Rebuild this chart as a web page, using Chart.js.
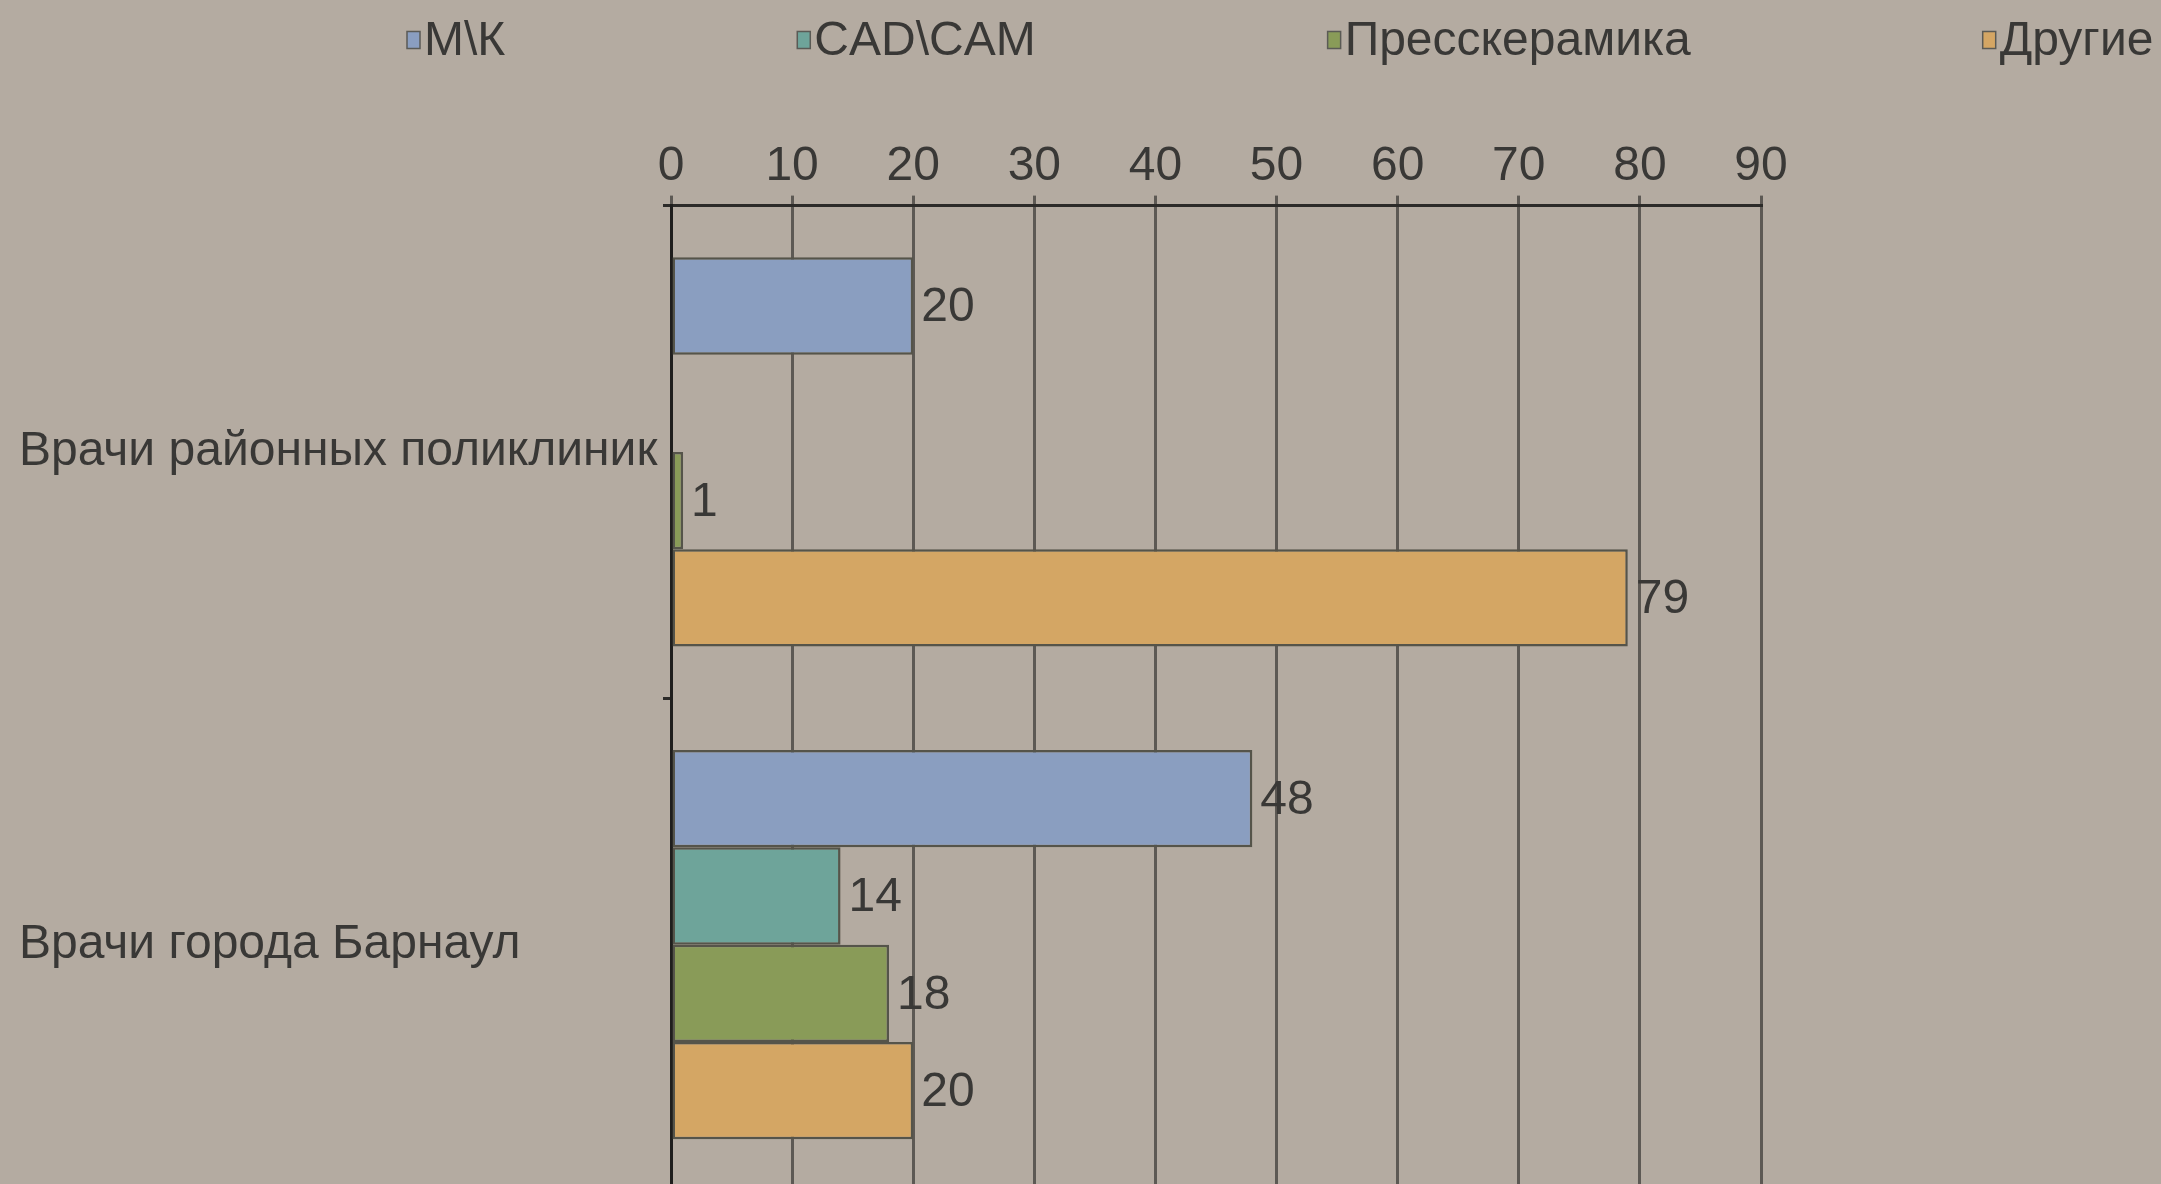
<!DOCTYPE html>
<html lang="ru">
<head>
<meta charset="utf-8">
<title>Врачи: М\К, CAD\CAM, Пресскерамика, Другие</title>
<script src="https://cdn.jsdelivr.net/npm/chart.js@4.4.1/dist/chart.umd.min.js"></script>
<style>
    html, body {
        margin: 0;
        padding: 0;
        overflow: hidden;
        background: #b4aba1;
    }
    #chart {
        display: block;
    }
</style>
</head>
<body>
<canvas id="chart" width="2161" height="1200"></canvas>
<script>
// --- data ---
const categories = ['Врачи районных поликлиник', 'Врачи города Барнаул'];
const seriesNames = ['М\\К', 'CAD\\CAM', 'Пресскерамика', 'Другие'];
const mkValues = [20, 48];
const cadCamValues = [null, 14];
const pressValues = [1, 18];
const otherValues = [79, 20];
const axisMin = 0;
const axisMax = 90;
const axisStep = 10;

// --- look ---
const FONT = '"Liberation Sans", Arial, sans-serif';
const TEXT_COLOR = '#393836';
const BAR_COLORS = ['#8a9ec0', '#6ea49a', '#899b58', '#d4a664'];
const BAR_BORDER = '#55544a';

/**
 * Legend row drawn with a tight gap between key and text
 */
const keyRow = {
    id: 'keyRow',
    afterDraw(chart, args, opts) {
        const ctx = chart.ctx;
        ctx.save();
        ctx.font = `${opts.fontSize}px ${FONT}`;
        ctx.textBaseline = 'middle';
        ctx.textAlign = 'left';

        let x = opts.left;
        chart.data.datasets.forEach(ds => {
            const top = opts.y - opts.boxH / 2;
            ctx.fillStyle = ds.backgroundColor;
            ctx.fillRect(x, top, opts.boxW, opts.boxH);
            ctx.strokeStyle = '#5a5a55';
            ctx.lineWidth = 1.5;
            ctx.strokeRect(x, top, opts.boxW, opts.boxH);

            ctx.fillStyle = TEXT_COLOR;
            ctx.fillText(ds.label, x + opts.boxW + opts.gap, opts.y + 2);
            x += opts.boxW + opts.gap + ctx.measureText(ds.label).width + opts.spacing;
        });
        ctx.restore();
    }
};

/**
 * Value written just past the end of each bar
 */
const valueLabels = {
    id: 'valueLabels',
    afterDatasetsDraw(chart, args, opts) {
        const ctx = chart.ctx;
        ctx.save();
        ctx.font = `${opts.fontSize}px ${FONT}`;
        ctx.fillStyle = TEXT_COLOR;
        ctx.textBaseline = 'middle';
        ctx.textAlign = 'left';

        chart.data.datasets.forEach((ds, i) => {
            const meta = chart.getDatasetMeta(i);
            meta.data.forEach((bar, j) => {
                const v = ds.data[j];
                if (v === null || v === undefined) return;
                ctx.fillText(String(v), bar.x + opts.offset, bar.y + 2);
            });
        });
        ctx.restore();
    }
};

const datasets = [mkValues, cadCamValues, pressValues, otherValues].map((values, i) => ({
    label: seriesNames[i],
    data: values,
    backgroundColor: BAR_COLORS[i],
    borderColor: BAR_BORDER,
    borderWidth: 2.5,
    borderSkipped: false,
    categoryPercentage: 0.79,
    barPercentage: 1.0
}));

const ctx = document.getElementById('chart').getContext('2d');

new Chart(ctx, {
    type: 'bar',
    data: {
        labels: categories,
        datasets: datasets
    },
    plugins: [keyRow, valueLabels],
    options: {
        indexAxis: 'y',
        responsive: false,
        animation: false,
        devicePixelRatio: 1,
        layout: {
            padding: {
                top: 138,
                left: 19,
                right: 400,
                bottom: 9
            }
        },
        scales: {
            x: {
                position: 'top',
                min: axisMin,
                max: axisMax,
                ticks: {
                    stepSize: axisStep,
                    padding: 0,
                    color: TEXT_COLOR,
                    font: { family: FONT, size: 48 }
                },
                grid: {
                    color: '#5d5954',
                    lineWidth: 3,
                    drawTicks: true,
                    tickLength: 10
                },
                border: {
                    color: '#2c2b29',
                    width: 3
                }
            },
            y: {
                ticks: {
                    crossAlign: 'far',
                    color: TEXT_COLOR,
                    font: { family: FONT, size: 48 }
                },
                grid: {
                    drawOnChartArea: false,
                    drawTicks: true,
                    tickLength: 8,
                    color: '#2c2b29',
                    lineWidth: 3
                },
                border: {
                    color: '#1f1e1d',
                    width: 3
                },
                afterFit(scale) {
                    // fixed axis box; labels sit centred in their band, so no overhang padding
                    scale.width = 652;
                    scale.paddingTop = 0;
                    scale.paddingBottom = 0;
                }
            }
        },
        plugins: {
            legend: { display: false },
            tooltip: { enabled: false },
            keyRow: {
                left: 407,
                y: 40,
                boxW: 13,
                boxH: 17,
                gap: 4,
                spacing: 292,
                fontSize: 48
            },
            valueLabels: {
                offset: 8,
                fontSize: 48
            }
        }
    }
});
</script>
</body>
</html>
